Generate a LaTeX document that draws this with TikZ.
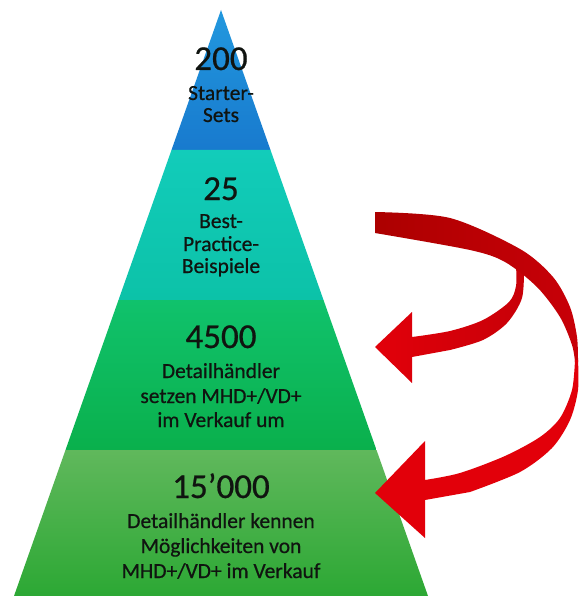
\documentclass[tikz,border=0pt]{standalone}
\usepackage{fontspec}
\setmainfont{Carlito}
\newfontfamily\heavy{Carlito}[FakeBold=0.6]
\definecolor{blueT}{RGB}{34,152,222}
\definecolor{blueB}{RGB}{24,122,206}
\definecolor{tealT}{RGB}{18,204,186}
\definecolor{tealB}{RGB}{12,194,168}
\definecolor{greenT}{RGB}{16,194,108}
\definecolor{greenB}{RGB}{10,176,76}
\definecolor{lgreenT}{RGB}{96,184,92}
\definecolor{lgreenB}{RGB}{44,168,52}
\definecolor{redD}{RGB}{172,0,0}
\definecolor{redM}{RGB}{200,0,8}
\definecolor{redB}{RGB}{226,0,10}
\definecolor{txt}{RGB}{16,20,16}
\tikzset{
  num/.style={anchor=base, inner sep=0pt, text=txt, font=\heavy\fontsize{35}{40}\selectfont},
  lbl/.style={anchor=base, inner sep=0pt, text=txt, font=\heavy\fontsize{21.5}{24}\selectfont},
}
\begin{document}
\begin{tikzpicture}[x=1pt,y=-1pt]
\useasboundingbox (0,0) rectangle (587,596);
\fill[white] (0,0) rectangle (587,596);
% pyramid layers
\shade[top color=blueT, bottom color=blueB] (221,10) -- (270.5,150) -- (171.5,150) -- cycle;
\shade[top color=tealT, bottom color=tealB] (171.5,150) -- (270.5,150) -- (323.5,300) -- (118.5,300) -- cycle;
\shade[top color=greenT, bottom color=greenB] (118.5,300) -- (323.5,300) -- (376.5,450) -- (65.5,450) -- cycle;
\shade[top color=lgreenT, bottom color=lgreenB] (65.5,450) -- (376.5,450) -- (428,596) -- (14,596) -- cycle;
% texts
\node[num] (n1) at (221,70) {200};
\node[lbl] (t1a) at (221,100) {Starter-};
\node[lbl] (t1b) at (221,122) {Sets};
\node[num] (n2) at (221,200) {25};
\node[lbl] (t2a) at (221,228) {Best-};
\node[lbl] (t2b) at (221,251) {Practice-};
\node[lbl] (t2c) at (221,273) {Beispiele};
\node[num] (n3) at (221,348) {4500};
\node[lbl] (t3a) at (221,378) {Detailhändler};
\node[lbl] (t3b) at (221,403) {setzen MHD+/VD+};
\node[lbl] (t3c) at (221,427) {im Verkauf um};
\node[num] (n4) at (221,498) {15’000};
\node[lbl] (t4a) at (221,528) {Detailhändler kennen};
\node[lbl] (t4b) at (221,553) {Möglichkeiten von};
\node[lbl] (t4c) at (221,578) {MHD+/VD+ im Verkauf};
% small ribbon arrow (to layer 3)
\coordinate (tipA) at (375,347);
\coordinate (tipB) at (375,493);
\shade[left color=redB, right color=redM]
  plot[smooth] coordinates {(516,266) (516,286) (509,302) (483,320) (450,331) (412,337)}
  -- (412,312) -- (tipA) -- (412,383) -- (412,357)
  -- plot[smooth] coordinates {(450,350) (483,340) (507,323) (522,298) (524,266)} -- cycle;
% big ribbon, upper (dark) part
\shade[left color=redD, right color=redM]
  plot[smooth] coordinates {(375,212) (450,218) (520,249) (553,277) (570,307) (577,337) (578,362)}
  -- plot[smooth] coordinates {(575,362) (572,345) (560,317) (537,287) (505,262) (470,250) (375,233)} -- cycle;
% big ribbon, lower (bright) part
\fill[redB]
  plot[smooth] coordinates {(575,360) (572,390) (560,418) (540,437) (505,456) (460,473) (425,480)}
  -- (425,441) -- (tipB) -- (425,538) -- (425,500)
  -- plot[smooth] coordinates {(470,492) (520,472) (552,448) (570,420) (578,390) (578,360)} -- cycle;
\end{tikzpicture}
\end{document}
